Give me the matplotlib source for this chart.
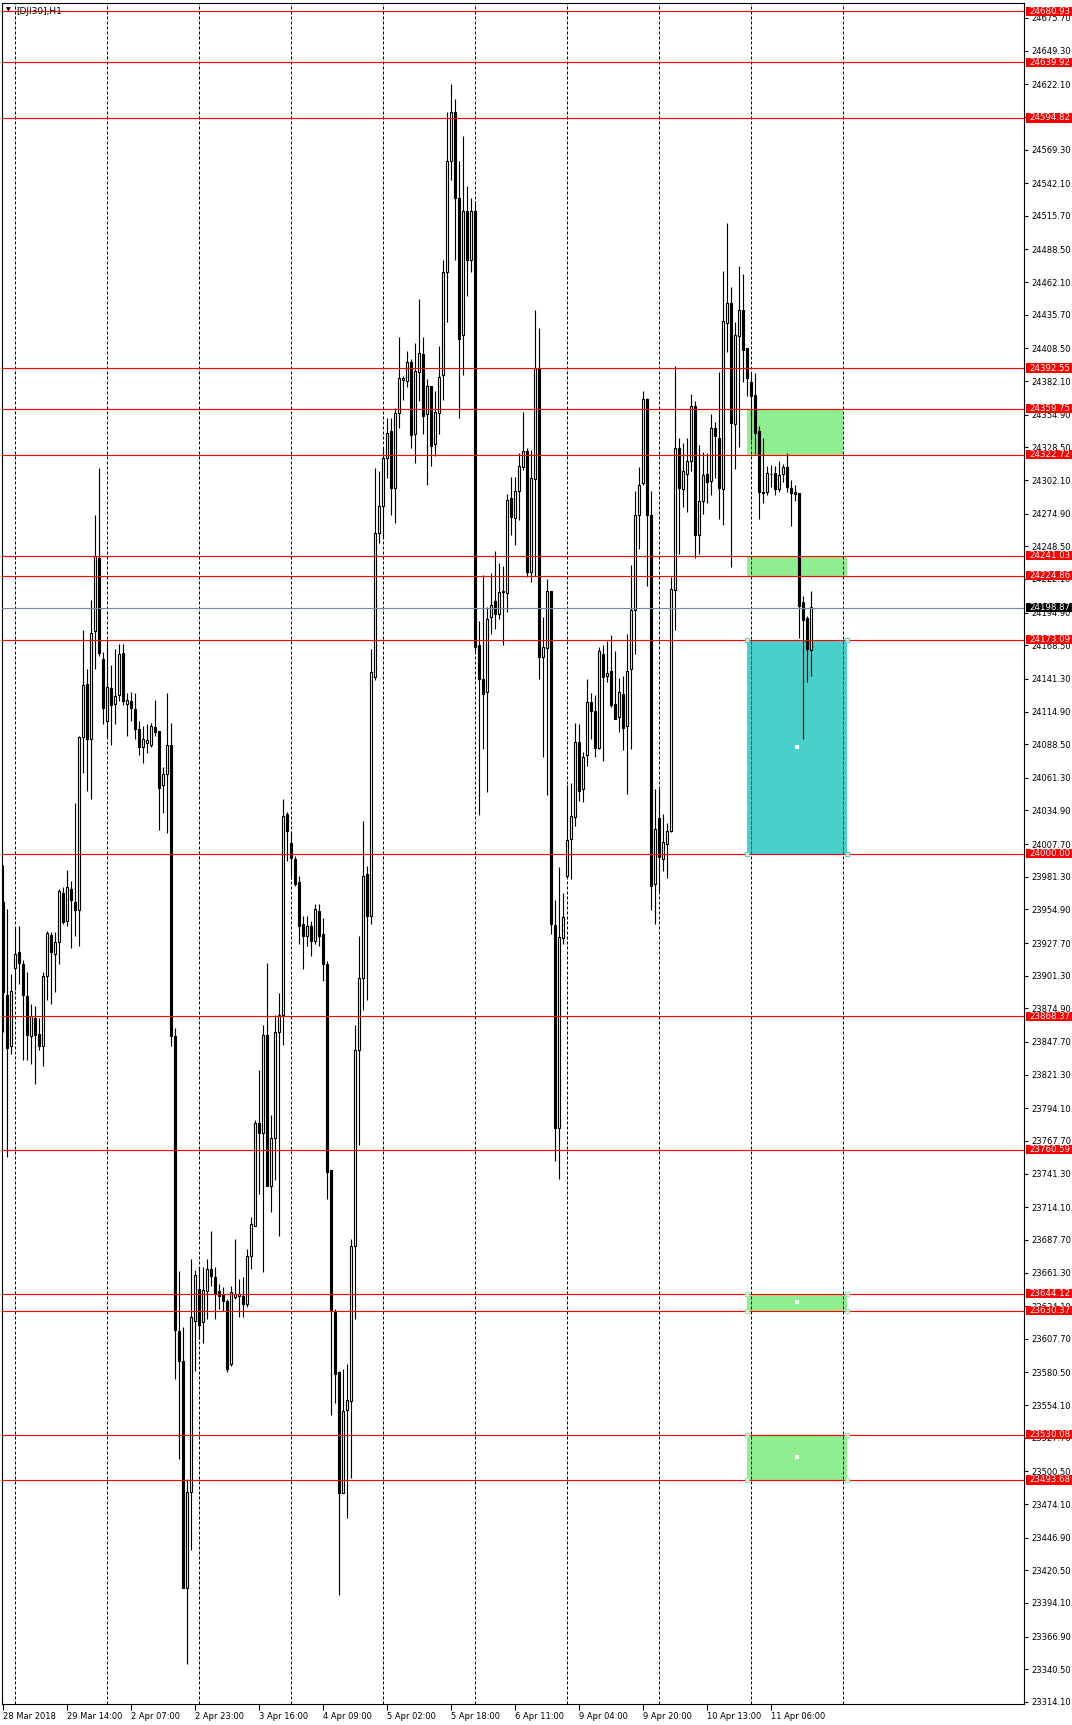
import matplotlib
matplotlib.use("Agg")
import matplotlib.pyplot as plt
from matplotlib.patches import Rectangle
from matplotlib.transforms import blended_transform_factory

# hourly DJI30 bars (bar 0 = 28 Mar 21:00)
opens = [23960.8, 23886.0, 23844.7, 23907.3, 23920.2, 23910.5, 23884.7, 23852.4, 23867.3, 23854.4,
         23844.7, 23900.8, 23934.3, 23918.9, 23928.5, 23968.5, 23945.9, 23971.7, 23960.8, 23954.3,
         24094.3, 24137.5, 24092.3, 24180.0, 24239.3, 24157.4, 24107.2, 24133.6, 24120.7, 24128.4,
         24162.0, 24121.3, 24123.3, 24116.8, 24100.7, 24086.5, 24089.7, 24087.8, 24102.6, 24099.4,
         24055.6, 24064.6, 24087.8, 23852.4, 23613.9, 23589.4, 23406.2, 23483.6, 23622.3, 23648.1,
         23621.6, 23646.4, 23664.1, 23657.6, 23646.4, 23644.0, 23638.3, 23587.6, 23641.5, 23642.3,
         23642.3, 23635.9, 23674.5, 23698.7, 23782.3, 23774.3, 23853.2, 23730.9, 23770.3, 23855.6,
         23869.2, 24031.8, 24008.5, 23995.6, 23977.1, 23943.3, 23933.6, 23941.6, 23929.6, 23953.7,
         23935.2, 23911.1, 23744.5, 23629.5, 23581.2, 23483.0, 23549.8, 23557.1, 23682.6, 23841.1,
         23899.8, 23983.5, 23949.7, 24142.8, 24259.5, 24281.2, 24319.8, 24341.6, 24295.7, 24356.0,
         24382.6, 24381.8, 24397.9, 24339.5, 24389.3, 24403.6, 24355.2, 24378.4, 24331.0, 24356.1,
         24387.0, 24470.0, 24560.0, 24600.0, 24530.0, 24419.0, 24520.0, 24480.0, 24520.0, 24168.7,
         24141.6, 24130.3, 24191.5, 24204.3, 24193.4, 24211.4, 24210.4, 24287.3, 24271.7, 24293.5,
         24312.5, 24325.3, 24228.0, 24303.0, 24392.6, 24159.2, 24166.3, 24212.3, 23942.4, 23778.2,
         23931.4, 23982.2, 24012.1, 24029.7, 24090.4, 24052.4, 24079.5, 24122.2, 24115.1, 24085.6,
         24161.6, 24143.5, 24147.3, 24120.7, 24110.2, 24129.0, 24103.4, 24148.9, 24196.7, 24273.9,
         24299.5, 24368.0, 24273.9, 23975.8, 24029.2, 23995.4, 24007.8, 24018.0, 24212.9, 24327.7,
         24294.6, 24307.2, 24317.2, 24361.6, 24257.7, 24285.2, 24306.6, 24301.0, 24344.3, 24336.0,
         24294.6, 24429.3, 24445.2, 24347.3, 24418.8, 24439.5, 24408.6, 24381.2, 24370.6, 24341.6,
         24292.0, 24292.0, 24306.6, 24307.4, 24294.6, 24306.6, 24312.3, 24295.3, 24292.3, 24291.9,
         24203.1, 24190.3, 24164.7]
highs = [23991.1, 23955.6, 23902.8, 23940.8, 23941.4, 23913.7, 23904.0, 23878.3, 23877.0, 23867.3,
         23904.0, 23937.6, 23936.3, 23936.3, 23971.7, 23973.0, 23986.6, 23978.2, 24040.7, 24095.5,
         24180.7, 24149.1, 24205.2, 24273.5, 24312.2, 24163.2, 24172.9, 24152.3, 24165.2, 24169.7,
         24169.7, 24129.7, 24131.0, 24129.7, 24107.2, 24103.3, 24105.2, 24105.9, 24124.6, 24099.4,
         24070.4, 24129.7, 24105.9, 23858.9, 23662.2, 23617.1, 23494.6, 23671.9, 23663.5, 23665.5,
         23665.5, 23672.1, 23694.6, 23665.7, 23652.0, 23649.6, 23640.0, 23650.4, 23688.2, 23656.0,
         23657.6, 23680.1, 23705.9, 23784.8, 23825.0, 23861.2, 23911.9, 23788.8, 23869.2, 23887.7,
         24043.8, 24033.4, 24018.1, 23998.0, 23981.9, 23949.7, 23949.7, 23945.7, 23959.4, 23959.4,
         23948.1, 23913.5, 23744.5, 23631.9, 23582.0, 23583.6, 23587.6, 23688.2, 23861.2, 23933.6,
         24026.1, 23989.9, 24165.3, 24311.8, 24309.4, 24327.9, 24352.0, 24352.0, 24360.0, 24418.0,
         24385.8, 24406.7, 24399.8, 24413.1, 24448.6, 24417.8, 24383.6, 24378.4, 24374.1, 24410.7,
         24480.0, 24600.0, 24622.0, 24610.0, 24560.0, 24580.0, 24540.0, 24530.0, 24528.0, 24187.7,
         24225.6, 24199.5, 24226.6, 24244.6, 24235.1, 24232.7, 24290.6, 24304.9, 24304.9, 24323.8,
         24357.1, 24327.7, 24326.7, 24439.2, 24424.9, 24191.5, 24221.8, 24212.3, 23962.3, 23989.3,
         23968.0, 24055.7, 24057.2, 24105.6, 24104.6, 24082.3, 24141.2, 24129.8, 24128.4, 24167.3,
         24168.7, 24172.0, 24176.8, 24164.0, 24142.1, 24144.0, 24177.9, 24233.2, 24293.5, 24312.7,
         24374.4, 24368.7, 24293.5, 24052.6, 24052.6, 24032.2, 24024.4, 24223.8, 24394.3, 24336.0,
         24332.2, 24336.0, 24371.8, 24366.1, 24330.4, 24324.7, 24323.9, 24355.6, 24349.2, 24389.4,
         24471.5, 24509.9, 24458.3, 24430.1, 24475.3, 24468.9, 24408.6, 24388.7, 24388.7, 24345.4,
         24336.0, 24313.4, 24314.2, 24313.4, 24317.2, 24315.3, 24323.9, 24302.1, 24298.4, 24291.9,
         24208.0, 24191.8, 24212.5]
lows = [23855.7, 23754.5, 23838.3, 23889.9, 23894.4, 23833.1, 23833.1, 23829.9, 23813.8, 23841.5,
        23828.6, 23881.5, 23878.3, 23887.9, 23910.5, 23942.7, 23941.4, 23923.4, 23933.0, 23925.3,
        24065.2, 24050.4, 24044.0, 24149.1, 24160.0, 24105.2, 24094.3, 24087.8, 24105.2, 24123.3,
        24120.0, 24095.5, 24107.2, 24092.3, 24079.4, 24073.0, 24081.4, 24085.9, 24095.5, 24018.8,
        24033.0, 24016.9, 23844.1, 23575.2, 23510.7, 23406.2, 23344.4, 23436.6, 23581.6, 23607.4,
        23604.2, 23623.9, 23650.4, 23623.9, 23631.9, 23630.3, 23581.2, 23586.0, 23640.0, 23625.5,
        23625.5, 23633.5, 23664.1, 23698.7, 23724.4, 23661.7, 23730.9, 23709.9, 23736.5, 23690.6,
        23845.1, 23994.0, 23981.9, 23973.8, 23927.2, 23907.0, 23925.6, 23917.5, 23927.2, 23925.6,
        23897.4, 23720.4, 23545.8, 23555.4, 23400.2, 23483.0, 23462.9, 23495.1, 23623.9, 23764.6,
        23873.3, 23881.3, 23943.3, 24140.4, 24251.4, 24255.4, 24303.7, 24274.0, 24267.5, 24344.0,
        24366.5, 24377.7, 24327.6, 24315.8, 24365.6, 24339.5, 24297.7, 24313.4, 24321.5, 24339.5,
        24367.0, 24430.0, 24545.0, 24480.0, 24352.3, 24387.0, 24451.0, 24470.0, 24163.9, 24031.1,
        24084.2, 24050.1, 24177.2, 24181.5, 24190.0, 24168.7, 24195.7, 24257.4, 24249.4, 24269.7,
        24310.1, 24223.3, 24220.0, 24224.7, 24141.6, 24078.5, 24047.7, 23935.2, 23751.1, 23736.9,
        23926.7, 23981.3, 23979.8, 24022.5, 24042.9, 24041.5, 24070.5, 24092.8, 24078.5, 24084.2,
        24075.2, 24138.8, 24118.9, 24109.0, 24098.1, 24083.8, 24048.1, 24085.0, 24161.7, 24246.4,
        24298.4, 24216.7, 23954.7, 23943.4, 23969.0, 23985.9, 23980.3, 24017.2, 24180.5, 24241.9,
        24280.3, 24276.5, 24309.6, 24238.9, 24241.9, 24275.0, 24283.3, 24290.1, 24304.0, 24270.9,
        24265.6, 24405.6, 24231.4, 24310.8, 24328.5, 24381.2, 24369.9, 24334.1, 24322.8, 24270.9,
        24283.3, 24290.1, 24296.5, 24289.7, 24292.7, 24300.2, 24292.7, 24265.2, 24285.2, 24174.2,
        24092.5, 24139.1, 24143.3]
closes = [23887.9, 23842.8, 23889.2, 23918.9, 23911.8, 23886.0, 23853.7, 23868.6, 23853.7, 23844.7,
          23900.8, 23935.6, 23920.2, 23928.5, 23969.8, 23944.7, 23973.0, 23962.1, 23954.3, 24094.3,
          24136.2, 24092.3, 24178.7, 24240.6, 24162.0, 24118.1, 24134.9, 24120.0, 24127.1, 24161.3,
          24123.3, 24123.9, 24118.1, 24100.7, 24086.5, 24093.0, 24091.7, 24103.3, 24098.1, 24053.0,
          24064.6, 24087.8, 23852.4, 23615.2, 23590.0, 23406.2, 23483.6, 23625.5, 23659.0, 23619.0,
          23647.4, 23664.1, 23658.4, 23644.0, 23642.3, 23638.3, 23583.6, 23645.6, 23644.0, 23644.0,
          23635.9, 23674.5, 23700.3, 23782.3, 23774.3, 23853.2, 23730.9, 23770.3, 23855.6, 23869.2,
          24030.2, 24018.1, 23996.4, 23975.4, 23941.6, 23933.6, 23941.6, 23929.6, 23955.3, 23933.6,
          23911.1, 23742.9, 23630.3, 23579.6, 23483.0, 23549.0, 23557.9, 23682.6, 23841.1, 23899.8,
          23981.9, 23949.7, 24146.8, 24259.5, 24281.2, 24319.8, 24339.9, 24295.7, 24356.0, 24384.2,
          24384.2, 24397.9, 24338.1, 24390.3, 24404.5, 24353.7, 24378.4, 24330.0, 24357.1, 24385.5,
          24470.0, 24560.0, 24600.0, 24530.0, 24416.0, 24520.0, 24480.0, 24520.0, 24167.0, 24141.6,
          24129.3, 24190.0, 24200.9, 24193.4, 24211.4, 24212.3, 24285.9, 24272.1, 24293.5, 24313.4,
          24325.3, 24228.0, 24303.9, 24392.6, 24159.2, 24167.3, 24212.3, 23943.3, 23778.2, 23932.8,
          23949.0, 24011.2, 24030.1, 24090.4, 24051.0, 24078.5, 24122.2, 24115.5, 24085.6, 24163.9,
          24142.6, 24146.4, 24119.8, 24109.0, 24130.9, 24101.9, 24147.8, 24196.7, 24273.9, 24298.4,
          24368.0, 24273.9, 23973.9, 24019.8, 23997.3, 24009.3, 24018.0, 24213.7, 24327.7, 24295.3,
          24309.6, 24317.2, 24361.6, 24257.7, 24285.2, 24305.9, 24300.2, 24344.3, 24337.9, 24295.3,
          24430.8, 24445.2, 24348.4, 24419.6, 24439.5, 24407.5, 24384.2, 24369.9, 24340.5, 24292.0,
          24291.2, 24307.8, 24307.2, 24294.6, 24305.9, 24312.3, 24296.5, 24291.6, 24290.8, 24200.5,
          24189.2, 24165.5, 24199.4]

time_labels = ["28 Mar 2018", "29 Mar 14:00", "2 Apr 07:00", "2 Apr 23:00", "3 Apr 16:00",
               "4 Apr 09:00", "5 Apr 02:00", "5 Apr 18:00", "6 Apr 11:00", "9 Apr 04:00",
               "9 Apr 20:00", "10 Apr 13:00", "11 Apr 06:00"]
time_label_bars = [0, 16, 32, 48, 64, 80, 96, 112, 128, 144, 160, 176, 192]
separator_bars = [3, 26, 49, 72, 95, 118, 141, 164, 187, 210]

price_ticks = [24675.70, 24649.30, 24622.10, 24595.70, 24569.30, 24542.10, 24515.70, 24488.50,
               24462.10, 24435.70, 24408.50, 24382.10, 24354.90, 24328.50, 24302.10, 24274.90,
               24248.50, 24222.10, 24194.90, 24168.50, 24141.30, 24114.90, 24088.50, 24061.30,
               24034.90, 24007.70, 23981.30, 23954.90, 23927.70, 23901.30, 23874.90, 23847.70,
               23821.30, 23794.10, 23767.70, 23741.30, 23714.10, 23687.70, 23661.30, 23634.10,
               23607.70, 23580.50, 23554.10, 23527.70, 23500.50, 23474.10, 23446.90, 23420.50,
               23394.10, 23366.90, 23340.50, 23314.10]

levels = [24680.93, 24639.92, 24594.82, 24392.55, 24359.75, 24322.72, 24241.03, 24224.86,
          24173.09, 24000.00, 23868.37, 23760.59, 23644.12, 23630.37, 23530.08, 23493.68]
bid = 24198.87

# rectangles: start bar, end bar, low, high, colour, selected
zones = [
    (185.9, 209.9, 24322.72, 24359.75, "#90ee90", False),
    (185.9, 210.9, 24224.86, 24241.03, "#90ee90", False),
    (185.9, 210.9, 24000.00, 24173.09, "#48d1cc", True),
    (185.9, 210.9, 23630.37, 23644.12, "#90ee90", True),
    (185.9, 210.9, 23493.68, 23530.08, "#90ee90", True),
]

W, H = 1072, 1725
fig = plt.figure(figsize=(W / 100, H / 100), dpi=100)
fig.patch.set_facecolor("white")
ax = fig.add_axes([2 / W, 21 / H, 1022 / W, 1701 / H])
ax.set_xlim(-0.325, 255.175)
ax.set_ylim(23312.4, 24687.8)
for sp in ax.spines.values():
    sp.set_linewidth(0.8)
    sp.set_color("black")

px = 0.72  # one pixel in points

# zones
for x0, x1, lo, hi, col, sel in zones:
    ax.add_patch(Rectangle((x0, lo), x1 - x0, hi - lo, facecolor=col, edgecolor="none", zorder=1))
    if sel:
        xs = [x0, x1, x0, x1]
        ys = [lo, lo, hi, hi]
        ax.plot(xs, ys, "s", ms=3.2, mfc="white", mec=col, mew=0.8, ls="none", zorder=5, clip_on=False)
        ax.plot([(x0 + x1) / 2], [(lo + hi) / 2], "s", ms=2.2, color="white", mew=0, zorder=5)

# day separators
for b in separator_bars:
    ax.axvline(b, color="black", lw=px, ls=(0, (3, 2)), zorder=1.5)
cy = zones[2]
for b in separator_bars:
    if cy[0] < b < cy[1]:
        ax.plot([b, b], [cy[2], cy[3]], color="#a52a2a", lw=px, ls=(0, (3, 2)), zorder=1.6)

# candles
n = len(closes)
xs = list(range(n))
ax.vlines(xs, lows, highs, color="black", lw=px + 0.1, zorder=3)
bottoms = [min(o, c) for o, c in zip(opens, closes)]
heights = [max(abs(c - o), 0.7) for o, c in zip(opens, closes)]
fills = ["white" if c >= o else "black" for o, c in zip(opens, closes)]
ax.bar(xs, heights, bottom=bottoms, width=0.5, color=fills, edgecolor="black",
       linewidth=px + 0.1, zorder=3.5)

# horizontal levels
for lv in levels:
    ax.axhline(lv, color="#ff0000", lw=px + 0.1, zorder=4)
ax.axhline(bid, color="#778899", lw=px + 0.1, zorder=4)

# axes ticks
ax.yaxis.tick_right()
ax.set_yticks(price_ticks)
ax.set_yticklabels([f"{v:.2f}" for v in price_ticks])
ax.tick_params(axis="y", direction="out", length=3, width=0.8, pad=2, labelsize=6, colors="black")
ax.set_xticks(time_label_bars)
ax.set_xticklabels(time_labels, ha="left")
ax.tick_params(axis="x", direction="out", length=4, width=0.8, pad=2, labelsize=6, colors="black")

# price labels on the right scale
bt = blended_transform_factory(fig.transFigure, ax.transData)
half = 4.7 * (24687.8 - 23312.4) / 1701
for lv in levels:
    ax.add_patch(Rectangle((1026 / W, lv - half), 46 / W, 2 * half, transform=bt,
                           facecolor="#ff0000", edgecolor="none", zorder=6, clip_on=False))
    ax.text(1029 / W, lv, f"{lv:.2f}", transform=bt, color="white", fontsize=6.2,
            va="center", ha="left", zorder=7, clip_on=False)
ax.add_patch(Rectangle((1026 / W, bid - half), 46 / W, 2 * half, transform=bt,
                       facecolor="black", edgecolor="none", zorder=6, clip_on=False))
ax.text(1029 / W, bid, f"{bid:.2f}", transform=bt, color="white", fontsize=6.2,
        va="center", ha="left", zorder=7, clip_on=False)

# chart title
fig.text(8 / W, 1 - 10 / H, "\u25bc", fontsize=4.5, va="center", ha="center")
fig.text(16 / W, 1 - 11 / H, "[DJI30],H1", fontsize=6.5, va="center", ha="left")

fig.savefig("out.png", dpi=100, facecolor="white")
